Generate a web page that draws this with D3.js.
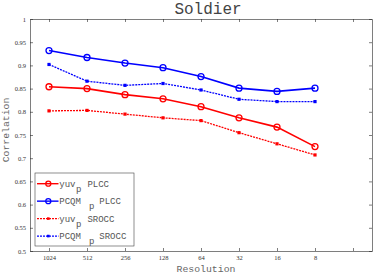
<!DOCTYPE html>
<html>
<head>
<meta charset="utf-8">
<script src="https://cdn.jsdelivr.net/npm/d3@7/dist/d3.min.js"></script>
<style>
  body { margin: 0; background: #fff; }
  svg { display: block; }
</style>
</head>
<body>
<script>
var resolutions = ["1024", "512", "256", "128", "64", "32", "16", "8"];
var yuvPlcc   = [0.854, 0.850, 0.837, 0.828, 0.811, 0.787, 0.767, 0.725];
var pcqmPlcc  = [0.932, 0.917, 0.905, 0.895, 0.876, 0.851, 0.844, 0.851];
var yuvSrocc  = [0.802, 0.803, 0.795, 0.787, 0.781, 0.755, 0.731, 0.707];
var pcqmSrocc = [0.902, 0.866, 0.857, 0.861, 0.847, 0.827, 0.822, 0.822];
var yTicks = [0.5, 0.55, 0.6, 0.65, 0.7, 0.75, 0.8, 0.85, 0.9, 0.95, 1];

var width = 374, height = 274;
var margin = {top: 19, right: 2, bottom: 23, left: 30};
var w = width - margin.left - margin.right,
    h = height - margin.top - margin.bottom;

var mono = "'Liberation Mono', 'DejaVu Sans Mono', monospace";

var series = [
  {name: "yuv", subGap: 0.5, gap: 6, metric: "PLCC", values: yuvPlcc, color: "#ff0000", dash: null, marker: "circle"},
  {name: "PCQM", subGap: 8, gap: 5, metric: "PLCC", values: pcqmPlcc, color: "#0000ff", dash: null, marker: "circle"},
  {name: "yuv", subGap: 0.5, gap: 6, metric: "SROCC", values: yuvSrocc, color: "#ff0000", dash: "2,1", marker: "square"},
  {name: "PCQM", subGap: 8, gap: 5, metric: "SROCC", values: pcqmSrocc, color: "#0000ff", dash: "2,1", marker: "square"}
];

var svg = d3.select("body").append("svg")
  .attr("width", width)
  .attr("height", height);

var g = svg.append("g")
  .attr("transform", "translate(" + margin.left + "," + margin.top + ")");

var x = d3.scaleLinear().domain([0.5, 9.5]).range([0, w]);
var y = d3.scaleLinear().domain([0.5, 1]).range([h, 0]);

var xTicks = d3.range(1, 10);

// axes with inward ticks, box closed on top and right
var xAxis = g.append("g")
  .attr("transform", "translate(0," + h + ")")
  .call(d3.axisBottom(x).tickValues(xTicks).tickSizeInner(-3).tickSizeOuter(0).tickPadding(4)
    .tickFormat(function(d) { return resolutions[d - 1] || ""; }));
var xTop = g.append("g")
  .call(d3.axisTop(x).tickValues(xTicks).tickSizeInner(-3).tickSizeOuter(0).tickFormat(""));

var yAxis = g.append("g")
  .call(d3.axisLeft(y).tickValues(yTicks).tickSizeInner(-3).tickSizeOuter(0).tickPadding(4)
    .tickFormat(function(d) { return String(+d.toFixed(2)); }));
var yRight = g.append("g")
  .attr("transform", "translate(" + w + ",0)")
  .call(d3.axisRight(y).tickValues(yTicks).tickSizeInner(-3).tickSizeOuter(0).tickFormat(""));

[xAxis, xTop, yAxis, yRight].forEach(function(a) {
  a.selectAll("path").attr("stroke", "#262626").attr("stroke-width", 0.6);
  a.selectAll("line").attr("stroke", "#262626").attr("stroke-width", 0.6);
  a.selectAll("text").attr("fill", "#333")
    .style("font-family", "'Liberation Serif', 'DejaVu Serif', serif")
    .style("font-size", "6.5px");
});

var line = d3.line()
  .x(function(d, i) { return x(i + 1); })
  .y(function(d) { return y(d); });

function drawMarker(sel, s, fx, fy, r) {
  if (s.marker === "circle") {
    sel.append("circle")
      .attr("cx", fx)
      .attr("cy", fy)
      .attr("r", r)
      .attr("fill", "none")
      .attr("stroke", s.color)
      .attr("stroke-width", 1.3);
  } else {
    sel.append("rect")
      .attr("x", function(d, i) { return fx(d, i) - r / 2; })
      .attr("y", function(d, i) { return fy(d, i) - r / 2; })
      .attr("width", r)
      .attr("height", r)
      .attr("fill", s.color);
  }
}

series.forEach(function(s) {
  g.append("path")
    .datum(s.values)
    .attr("fill", "none")
    .attr("stroke", s.color)
    .attr("stroke-width", s.dash ? 1.3 : 1.6)
    .attr("stroke-dasharray", s.dash)
    .attr("d", line);

  var pts = g.selectAll(null).data(s.values).enter();
  drawMarker(pts, s, function(d, i) { return x(i + 1); }, function(d) { return y(d); },
    s.marker === "circle" ? 3 : 3.2);
});

// title + axis labels
svg.append("text")
  .attr("x", 208)
  .attr("y", 13.5)
  .attr("text-anchor", "middle")
  .style("font-family", mono)
  .style("font-size", "16px")
  .attr("fill", "#444")
  .text("Soldier");

svg.append("text")
  .attr("x", 206)
  .attr("y", 271.5)
  .attr("text-anchor", "middle")
  .style("font-family", mono)
  .style("font-size", "9.8px")
  .attr("fill", "#666")
  .text("Resolution");

svg.append("text")
  .attr("transform", "translate(9,130) rotate(-90)")
  .attr("text-anchor", "middle")
  .style("font-family", mono)
  .style("font-size", "9.8px")
  .attr("fill", "#666")
  .text("Correlation");

// legend
var legend = g.append("g")
  .attr("transform", "translate(5,154)");

legend.append("rect")
  .attr("width", 99)
  .attr("height", 73)
  .attr("fill", "#fff")
  .attr("stroke", "#444")
  .attr("stroke-width", 0.6);

var entry = legend.selectAll("g.entry")
  .data(series)
  .enter().append("g")
  .attr("class", "entry")
  .attr("transform", function(d, i) { return "translate(0," + (10.7 + i * 17.45) + ")"; });

entry.append("line")
  .attr("x1", 2).attr("x2", 23.5)
  .attr("y1", 0).attr("y2", 0)
  .attr("stroke", function(d) { return d.color; })
  .attr("stroke-width", function(d) { return d.dash ? 1.2 : 1.4; })
  .attr("stroke-dasharray", function(d) { return d.dash; });

entry.each(function(s) {
  drawMarker(d3.select(this), s, function() { return 13.3; }, function() { return 0; },
    s.marker === "circle" ? 2.5 : 2.6);
});

var lt = entry.append("text")
  .attr("x", 24.3)
  .attr("y", 3)
  .style("font-family", mono)
  .style("font-size", "9px")
  .attr("fill", "#555");

lt.append("tspan").text(function(d) { return d.name; });
lt.append("tspan")
  .attr("dx", function(d) { return d.subGap; })
  .attr("dy", 5)
  .text("p");
lt.append("tspan")
  .attr("dx", function(d) { return d.gap; })
  .attr("dy", -5)
  .text(function(d) { return d.metric; });
</script>
</body>
</html>
